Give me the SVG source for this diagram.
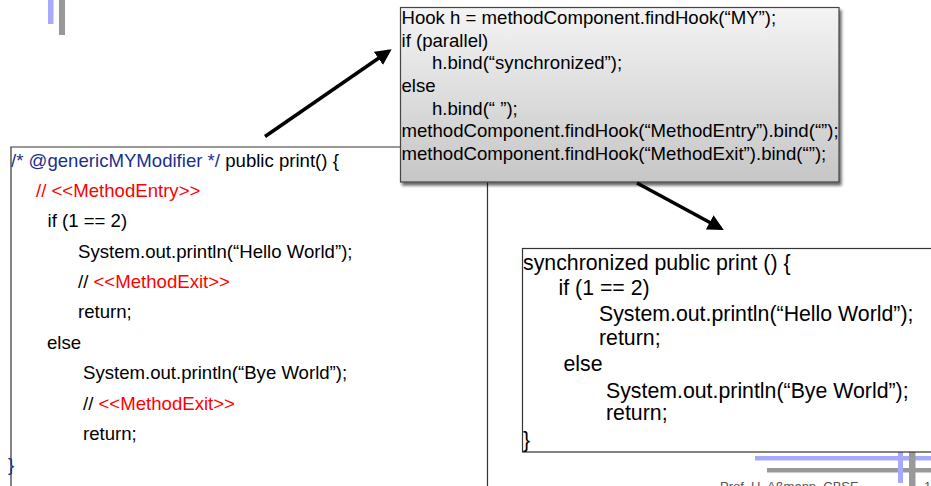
<svg xmlns="http://www.w3.org/2000/svg" width="931" height="486" viewBox="0 0 931 486">
  <style>
    text { font-family: "Liberation Sans", Arial, sans-serif; fill: #000; white-space: pre; }
    .l { font-size: 18.6px; }
    .h { font-size: 18.6px; }
    .r { font-size: 21.3px; }
    .blue { fill: #1b2f8c; }
    .red { fill: #ff0000; }
    .frame { fill: #fff; stroke: #333; stroke-width: 1.2; }
    .conn { stroke: #000; stroke-width: 3.5; fill: none; marker-end: url(#head); }
    .foot { font-size: 13px; fill: #555; }
  </style>
  <defs>
    <marker id="head" viewBox="0 0 10 10" refX="8" refY="5" markerWidth="4.6" markerHeight="4.6" orient="auto" markerUnits="strokeWidth">
      <path d="M0,0 L10,5 L0,10 Z" fill="#000"/>
    </marker>
    <linearGradient id="grayFill" x1="0" y1="0" x2="0" y2="1">
      <stop offset="0" stop-color="#f4f4f4"/>
      <stop offset="1" stop-color="#c6c6c6"/>
    </linearGradient>
    <filter id="shadow" x="-5%" y="-5%" width="115%" height="120%">
      <feGaussianBlur in="SourceAlpha" stdDeviation="1.5"/>
      <feOffset dx="2" dy="3" result="off"/>
      <feComponentTransfer><feFuncA type="linear" slope="0.6"/></feComponentTransfer>
      <feMerge><feMergeNode/><feMergeNode in="SourceGraphic"/></feMerge>
    </filter>
  </defs>

  <rect width="931" height="486" fill="#fff"/>

  <!-- slide decoration bars and footer -->
  <g id="decoration">
    <rect x="48" y="0" width="5.5" height="24" fill="#a8a8ff"/>
    <rect x="59" y="0" width="6" height="35" fill="#999"/>
    <rect x="755" y="456" width="176" height="4.5" fill="#a8a8ff"/>
    <rect x="767" y="468" width="164" height="4.5" fill="#999"/>
    <rect x="898" y="452" width="5" height="31" fill="#a8a8ff"/>
    <rect x="909" y="452" width="6.5" height="34" fill="#999"/>
    <text class="foot" x="720" y="491">Prof. U. Aßmann, CBSE</text>
    <text class="foot" x="924" y="491">1</text>
  </g>

  <!-- generic method with hooks -->
  <g id="node-generic-method">
    <path d="M11,486 V147 H487.5 V486" class="frame"/>
    <text class="l" x="11" y="166.5"><tspan class="blue">/* @genericMYModifier */</tspan> public print() {</text>
    <text class="l red" x="36" y="196.5">// &lt;&lt;MethodEntry&gt;&gt;</text>
    <text class="l" x="47.5" y="227">if (1 == 2)</text>
    <text class="l" x="78" y="257.5">System.out.println(“Hello World”);</text>
    <text class="l" x="78" y="288">// <tspan class="red">&lt;&lt;MethodExit&gt;&gt;</tspan></text>
    <text class="l" x="78" y="318">return;</text>
    <text class="l" x="47" y="348.5">else</text>
    <text class="l" x="83" y="379">System.out.println(“Bye World”);</text>
    <text class="l" x="83" y="409.5">// <tspan class="red">&lt;&lt;MethodExit&gt;&gt;</tspan></text>
    <text class="l" x="83" y="440">return;</text>
    <text class="l blue" x="8" y="471">}</text>
  </g>

  <!-- composition program binding the hooks -->
  <g id="node-hook-binding">
    <rect x="400.5" y="7.5" width="438.5" height="174.5" fill="url(#grayFill)" stroke="#444" stroke-width="1.2" filter="url(#shadow)"/>
    <text class="h" x="401.5" y="24">Hook h = methodComponent.findHook(“MY”);</text>
    <text class="h" x="401.5" y="46.7">if (parallel)</text>
    <text class="h" x="432" y="69.3">h.bind(“synchronized”);</text>
    <text class="h" x="401.5" y="92">else</text>
    <text class="h" x="432" y="114.7">h.bind(“ ”);</text>
    <text class="h" x="401.5" y="137.3">methodComponent.findHook(“MethodEntry”).bind(“”);</text>
    <text class="h" x="401.5" y="160">methodComponent.findHook(“MethodExit”).bind(“”);</text>
  </g>

  <!-- resulting bound method -->
  <g id="node-bound-method">
    <rect x="522.5" y="248.5" width="420" height="203.5" class="frame"/>
    <text class="r" x="523" y="270">synchronized public print () {</text>
    <text class="r" x="558.5" y="295">if (1 == 2)</text>
    <text class="r" x="599" y="321">System.out.println(“Hello World”);</text>
    <text class="r" x="599" y="345">return;</text>
    <text class="r" x="563.5" y="371">else</text>
    <text class="r" x="606" y="397.5">System.out.println(“Bye World”);</text>
    <text class="r" x="606" y="420">return;</text>
    <text class="r" x="523" y="446.5">}</text>
  </g>

  <g id="connectors">
    <line class="conn" x1="265" y1="136.5" x2="389" y2="51"/>
    <line class="conn" x1="637" y1="183" x2="721" y2="228.5"/>
  </g>
</svg>
